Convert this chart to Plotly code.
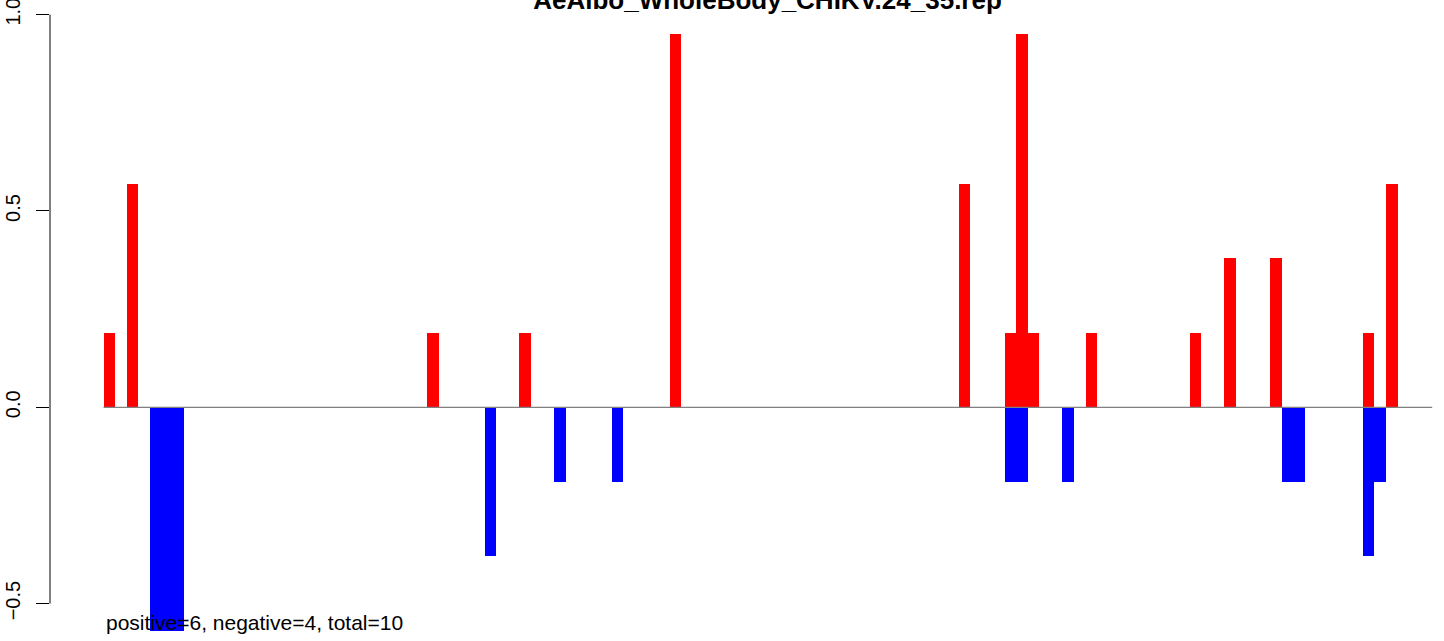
import plotly.graph_objects as go

# ---- data ----
title_text = "AeAlbo_WholeBody_CHIKV.24_35.rep"
summary_text = "positive=6, negative=4, total=10"
n_slots = 115

pos_slots = [0, 2, 28, 36, 49, 74, 78, 79, 80, 85, 94, 97, 101, 109, 111]
pos_vals = [0.19, 0.57, 0.19, 0.19, 0.95, 0.57, 0.19, 0.95, 0.19, 0.19, 0.19, 0.38, 0.38, 0.19, 0.57]

neg_slots = [4, 5, 6, 33, 39, 44, 78, 79, 83, 102, 103, 109, 110]
neg_vals = [-0.57, -0.57, -0.57, -0.38, -0.19, -0.19, -0.19, -0.19, -0.19, -0.19, -0.19, -0.38, -0.19]

y_tickvals = [-0.5, 0.0, 0.5, 1.0]
y_ticktext = ["\u22120.5", "0.0", "0.5", "1.0"]

FONT = "Liberation Sans, Arial, Helvetica, sans-serif"

fig = go.Figure()
fig.add_trace(go.Bar(x=pos_slots, y=pos_vals, width=1, marker=dict(color="#FF0000", line=dict(width=0)),
                     showlegend=False, hoverinfo="x+y"))
fig.add_trace(go.Bar(x=neg_slots, y=neg_vals, width=1, marker=dict(color="#0000FF", line=dict(width=0)),
                     showlegend=False, hoverinfo="x+y"))

# zero line across bar region
fig.add_shape(type="line", xref="x", yref="y", x0=-0.5, x1=n_slots - 0.5, y0=0, y1=0,
              line=dict(color="#808080", width=1.2), layer="above")
# y axis line spanning the tick range (R style)
fig.add_shape(type="line", xref="paper", yref="y", x0=0, x1=0, y0=min(y_tickvals), y1=max(y_tickvals),
              line=dict(color="black", width=1), layer="above")

fig.add_annotation(text=summary_text, xref="x", yref="y", x=-0.5, y=-0.549,
                   xanchor="left", yanchor="middle", showarrow=False,
                   font=dict(family=FONT, size=21, color="black"))

fig.update_layout(
    width=1444, height=641,
    margin=dict(l=50, r=0, t=0, b=0),
    paper_bgcolor="white", plot_bgcolor="white",
    barmode="overlay",
    bargap=0,
    title=dict(text="<b>" + title_text + "</b>", x=767.5 / 1444, xanchor="center", xref="container",
               y=1.0, yanchor="middle", yref="container",
               font=dict(family=FONT, size=26, color="black")),
    xaxis=dict(visible=False, range=[-5.13, 115.52], automargin=False),
    yaxis=dict(range=[-0.5953, 1.0374], tickvals=y_tickvals, ticktext=y_ticktext,
               showgrid=False, zeroline=False, showline=False, automargin=False,
               ticks="outside", ticklen=13, tickwidth=1, tickcolor="black",
               ticklabelstandoff=8, ticklabeloverflow="allow",
               tickangle=-90, tickfont=dict(family=FONT, size=20, color="black")),
    font=dict(family=FONT),
)

fig.write_html("out.html", config={"displayModeBar": False},
               post_script="document.body.style.margin='0';")
